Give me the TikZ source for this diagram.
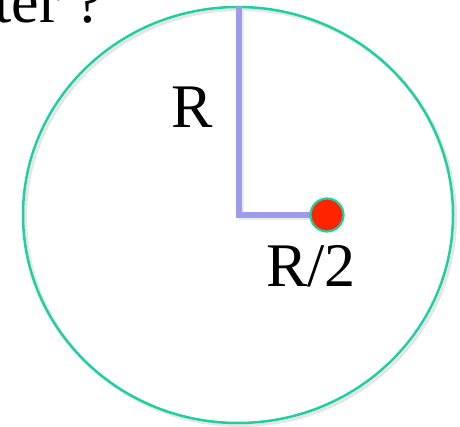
\documentclass[tikz,border=0pt]{standalone}
\usepackage{fontspec}
\setmainfont{Liberation Serif}
\definecolor{rim}{HTML}{1FCFA2}
\definecolor{lav}{HTML}{9C9CEA}
\definecolor{dotred}{HTML}{FF2400}
\tikzset{
  lbl/.style={font=\fontsize{62}{62}\selectfont, inner sep=0pt},
  radius line/.style={draw=lav, line width=5.5pt},
  rimline/.style={draw=rim, line width=2.5pt},
  shade line/.style={draw=black!10, line width=3pt},
}
\begin{document}
\begin{tikzpicture}[x=1pt,y=1pt]
\useasboundingbox (0,0) rectangle (460,427);
\clip (0,0) rectangle (460,427);
\coordinate (c) at (239,212);
\coordinate (top) at (239,421);
% shadows
\draw[shade line] (240.5,209.5) ellipse [x radius=215, y radius=208];
\draw[draw=black!8, line width=5pt] (241,419) -- (241,209.5) -- (320,209.5);
% circle
\draw[rimline] (238,212) ellipse [x radius=215, y radius=208];
% radius lines
\draw[radius line] (top) -- (c) -- (327,212);
\node[circle, fill=dotred, draw=rim, line width=2.2pt, minimum size=33pt, inner sep=0pt] (dot) at (327,212) {};
\node[lbl, anchor=base] (r) at (192,299) {R};
\node[lbl, anchor=base] (r2) at (311,140.5) {R/2};
\node[lbl, anchor=base east] (q) at (103,404) {center ?};
\end{tikzpicture}
\end{document}
